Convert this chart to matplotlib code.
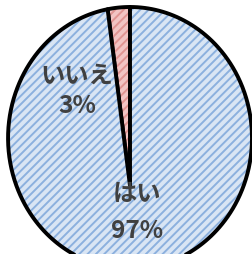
import numpy as np
import matplotlib.pyplot as plt
from matplotlib.patches import Polygon

plt.rcParams['font.family'] = ['Noto Sans CJK JP', 'DejaVu Sans']
plt.rcParams['hatch.linewidth'] = 1.4

# data
labels = ['いいえ', 'はい']
values = [3, 97]
face_colors = ['#f2c4c3', '#d9e5f4']
hatch_colors = ['#e09492', '#8cb0de']

# perspective-ish pie: ellipse is the unit circle in data coords,
# slice apex sits below the middle
apex = np.array([0.0, -0.366])
stretch = 1.4


def edge_point(theta):
    d = np.array([np.cos(theta), stretch * np.sin(theta)])
    ad = apex @ d
    dd = d @ d
    t = (-ad + np.sqrt(ad ** 2 - dd * (apex @ apex - 1))) / dd
    return apex + t * d


fig = plt.figure(figsize=(2.52, 2.55), dpi=100)
ax = fig.add_axes([0, 0, 1, 1])
ax.set_xlim(-1.066, 1.0)
ax.set_ylim(-0.885, 1.061)
ax.axis('off')

start = 90.0
total = sum(values)
for val, fc, hc in zip(values, face_colors, hatch_colors):
    end = start + 360.0 * val / total
    angles = np.radians(np.linspace(start, end, 200))
    pts = [apex] + [edge_point(a) for a in angles]
    ax.add_patch(Polygon(pts, closed=True, facecolor=fc, edgecolor=hc,
                         hatch='////', linewidth=0))
    ax.add_patch(Polygon(pts, closed=True, fill=False, edgecolor='black',
                         linewidth=2.8, joinstyle='round'))
    start = end

txt = dict(ha='center', va='center', color='#404040', fontsize=17.5,
           fontweight='bold')
ax.text(-0.434, 0.481, labels[0], **txt)
ax.text(-0.434, 0.252, f'{values[0]}%', **txt)
ax.text(0.057, -0.42, labels[1], **txt)
ax.text(0.057, -0.702, f'{values[1]}%', **txt)

fig.savefig('out.png', dpi=100)
